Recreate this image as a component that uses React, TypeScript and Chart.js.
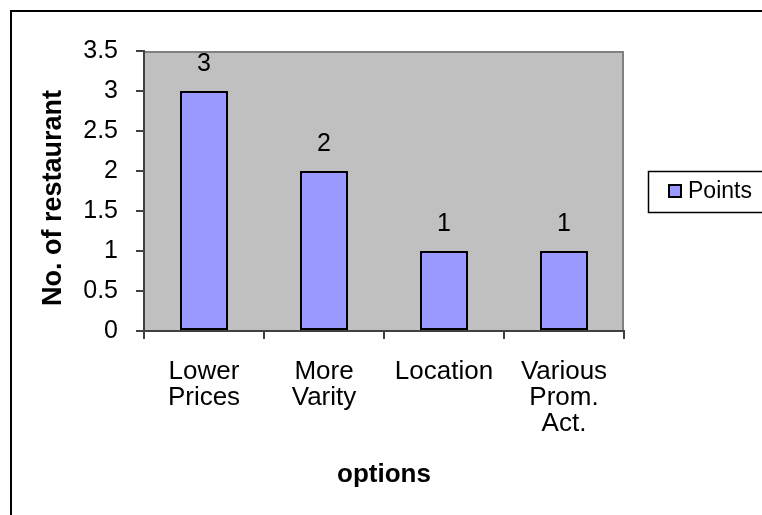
import React, { useEffect, useRef } from "react";
import { Chart, registerables } from "chart.js";

Chart.register(...registerables);

const categories: string[][] = [
  ["Lower", "Prices"],
  ["More", "Varity"],
  ["Location"],
  ["Various", "Prom.", "Act."],
];
const seriesName = "Points";
const pointsValues = [3, 2, 1, 1];
const yTickValues = [0, 0.5, 1, 1.5, 2, 2.5, 3, 3.5];
const yTitle = "No. of restaurant";
const xTitle = "options";

const FONT = "'Liberation Sans', Arial, sans-serif";

const decorPlugin = {
  id: "decor",
  beforeDraw(chart: any) {
    const { ctx, chartArea } = chart;
    const { left, top, right, bottom } = chartArea;
    ctx.save();
    ctx.fillStyle = "#ffffff";
    ctx.fillRect(0, 0, chart.width, chart.height);
    // outer frame (only left & top visible)
    ctx.strokeStyle = "#000000";
    ctx.lineWidth = 2;
    ctx.strokeRect(11, 11, 2000, 2000);
    // plot background
    ctx.fillStyle = "#C0C0C0";
    ctx.fillRect(left, top, right - left, bottom - top);
    ctx.strokeStyle = "#808080";
    ctx.lineWidth = 2;
    ctx.beginPath();
    ctx.moveTo(left, top + 1);
    ctx.lineTo(right - 1, top + 1);
    ctx.lineTo(right - 1, bottom);
    ctx.stroke();
    ctx.restore();
  },
  afterDatasetsDraw(chart: any) {
    const { ctx } = chart;
    const meta = chart.getDatasetMeta(0);
    const ds = chart.data.datasets[0];
    ctx.save();
    ctx.fillStyle = "#000000";
    ctx.font = `25px ${FONT}`;
    ctx.textAlign = "center";
    ctx.textBaseline = "middle";
    meta.data.forEach((bar: any, i: number) => {
      ctx.fillText(String(ds.data[i]), bar.x, bar.y - 27);
    });
    // y axis title
    ctx.save();
    ctx.translate(54, 198);
    ctx.rotate(-Math.PI / 2);
    ctx.font = `bold 27px ${FONT}`;
    ctx.fillText(yTitle, 0, 0);
    ctx.restore();
    // legend
    const lx = 648, ly = 171, lw = 130, lh = 41;
    ctx.fillStyle = "#ffffff";
    ctx.fillRect(lx, ly, lw, lh);
    ctx.strokeStyle = "#000000";
    ctx.lineWidth = 1.5;
    ctx.strokeRect(lx + 0.5, ly + 0.5, lw, lh);
    ctx.fillStyle = ds.backgroundColor;
    ctx.fillRect(669, 185, 12, 12);
    ctx.lineWidth = 2;
    ctx.strokeStyle = "#000000";
    ctx.strokeRect(669, 185, 12, 12);
    ctx.fillStyle = "#000000";
    ctx.font = `23px ${FONT}`;
    ctx.textAlign = "left";
    ctx.textBaseline = "middle";
    ctx.fillText(ds.label, 688, 192);
    ctx.restore();
  },
};

export default function App() {
  const ref = useRef<HTMLCanvasElement | null>(null);
  useEffect(() => {
    if (!ref.current) return;
    const chart = new Chart(ref.current, {
      type: "bar",
      data: {
        labels: categories,
        datasets: [
          {
            label: seriesName,
            data: pointsValues,
            backgroundColor: "#9999FF",
            borderColor: "#000000",
            borderWidth: 2,
            borderSkipped: false,
            categoryPercentage: 1,
            barPercentage: 0.4,
          },
        ],
      },
      options: {
        responsive: false,
        animation: false,
        devicePixelRatio: 1,
        layout: { padding: { left: 0, top: 51, right: 138, bottom: 0 } },
        plugins: {
          legend: { display: false },
          tooltip: { enabled: false },
        },
        scales: {
          x: {
            grid: {
              display: true,
              drawOnChartArea: false,
              drawTicks: true,
              tickLength: 8,
              color: "#404040",
              lineWidth: 2,
              offset: true,
            },
            border: { display: true, color: "#404040", width: 2 },
            ticks: {
              color: "#000000",
              font: { family: FONT, size: 26, lineHeight: 1.0 },
              padding: 20,
              maxRotation: 0,
              minRotation: 0,
              autoSkip: false,
            },
            title: {
              display: true,
              text: xTitle,
              color: "#000000",
              font: { family: FONT, size: 26, weight: "bold" },
              padding: { top: 0, bottom: 25 },
            },
            afterFit: (scale: any) => {
              scale.height = 184;
            },
          },
          y: {
            min: 0,
            max: 3.5,
            grid: {
              display: true,
              drawOnChartArea: false,
              drawTicks: true,
              tickLength: 8,
              color: "#404040",
              lineWidth: 2,
            },
            border: { display: true, color: "#404040", width: 2 },
            afterBuildTicks: (scale: any) => {
              scale.ticks = yTickValues.map((v) => ({ value: v }));
            },
            ticks: {
              color: "#000000",
              font: { family: FONT, size: 25 },
              padding: 18,
              callback: (v: any) => String(v),
            },
            title: { display: false },
            afterFit: (scale: any) => {
              scale.width = 144;
            },
          },
        },
      },
      plugins: [decorPlugin],
    });
    return () => chart.destroy();
  }, []);
  return (
    <canvas
      ref={ref}
      width={762}
      height={515}
      style={{ position: "fixed", left: 0, top: 0, width: 762, height: 515 }}
    />
  );
}
